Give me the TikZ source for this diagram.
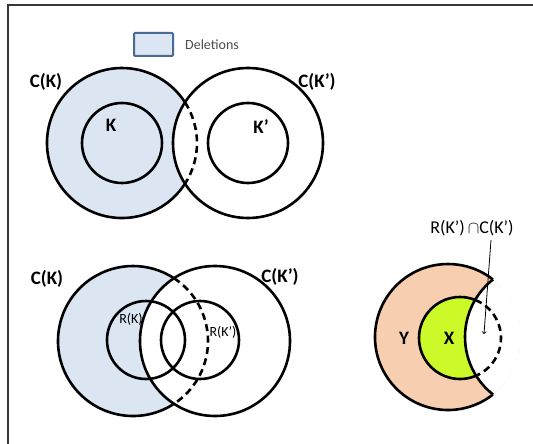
\documentclass[tikz,border=0pt]{standalone}
\usepackage{amsmath, amssymb}
\usepackage{fontspec}
\setmainfont{Carlito}
\usepackage{tikz}
\usetikzlibrary{positioning}

\definecolor{loesch}{RGB}{220,230,242}
\definecolor{loeschrand}{RGB}{74,106,150}
\definecolor{pfirsich}{RGB}{248,206,176}
\definecolor{gruen}{RGB}{204,250,40}
\definecolor{rahmen}{RGB}{55,55,55}

\begin{document}
\begin{tikzpicture}[x=1pt, y=-1pt,
	kreis/.style={black, line width=2.6pt},
	strich/.style={kreis, dash pattern=on 7pt off 4.5pt},
	gross/.style={font=\fontsize{19}{19}\selectfont\bfseries, inner sep=0pt},
	klein/.style={font=\fontsize{14}{14}\selectfont, inner sep=0pt}]
	\useasboundingbox (0,0) rectangle (533,444);
	% der rahmen
	\draw[rahmen, line width=2pt] (8,444) -- (8,5) -- (533,5);
	% legende
	\node[draw=loeschrand, fill=loesch, line width=2pt, rounded corners=1pt,
		minimum width=39pt, minimum height=23pt] (legende) at (153.5,44.5) {};
	\node[klein, text=black!70, right=11pt of legende] (loeschtext) {Deletions};

	% oben: C(K) und C(K') getrennt
	\fill[loesch] (122,143) circle (75);
	\begin{scope}
		\clip (122,143) circle (75);
		\fill[white] (248,143) circle (75);
	\end{scope}
	\draw[kreis] (122,143) ++(32.9:75) arc[start angle=32.9, end angle=327.1, radius=75];
	\draw[strich] (122,143) ++(-32.9:75) arc[start angle=-32.9, end angle=32.9, radius=75];
	\draw[kreis] (248,143) circle (75);
	\draw[kreis] (122,143) circle (40);
	\draw[kreis] (248,143) circle (40);
	% beschriftung oben
	\node[gross] (ck) at (46,82) {C(K)};
	\node[gross] (ckp) at (317,82) {C(K’)};
	\node[gross] (k) at (111,125) {K};
	\node[gross] (kp) at (261,127) {K’};

	% unten: C(K) und C(K') ueberlappend
	\fill[loesch] (133,341) circle (75);
	\begin{scope}
		\clip (133,341) circle (75);
		\fill[white] (215,341) circle (75);
	\end{scope}
	\draw[kreis] (133,341) ++(56.9:75) arc[start angle=56.9, end angle=303.1, radius=75];
	\draw[strich] (133,341) ++(-56.9:75) arc[start angle=-56.9, end angle=56.9, radius=75];
	\draw[kreis] (215,341) circle (75);
	\draw[kreis] (146,340) circle (39);
	\draw[kreis] (200,340) circle (39);
	% beschriftung unten
	\node[gross] (ck2) at (47,279) {C(K)};
	\node[gross] (ckp2) at (280,277) {C(K’)};
	\node[klein] (rk) at (131,319) {R(K)};
	\node[klein] (rkp) at (223,332) {R(K’)};

	% rechts: die sichel mit X und Y
	\begin{scope}
		\clip (448,337) circle (73);
		\fill[pfirsich] (448,337) circle (73);
		\fill[gruen] (460,338) circle (41);
		\fill[white] (538,337) circle (73);
	\end{scope}
	\draw[kreis] (448,337) ++(52:73) arc[start angle=52, end angle=308, radius=73];
	\draw[kreis] (538,337) ++(128:73) arc[start angle=128, end angle=232, radius=73];
	\draw[kreis] (460,338) ++(68:41) arc[start angle=68, end angle=292, radius=41];
	\draw[strich] (460,338) ++(-68:41) arc[start angle=-68, end angle=68, radius=41];
	\node[gross] (y) at (404,338) {Y};
	\node[gross] (x) at (449,338) {X};
	% schnittmenge mit pfeil
	\node[font=\fontsize{18}{18}\selectfont, inner sep=0pt] (schnitt) at (472,228) {R(K’)$\,\cap$C(K’)};
	\coordinate (ziel) at (484,334);
	\draw[->, line width=0.8pt] ([xshift=19pt]schnitt.south) ++(0,4) -- (ziel);
\end{tikzpicture}
\end{document}
